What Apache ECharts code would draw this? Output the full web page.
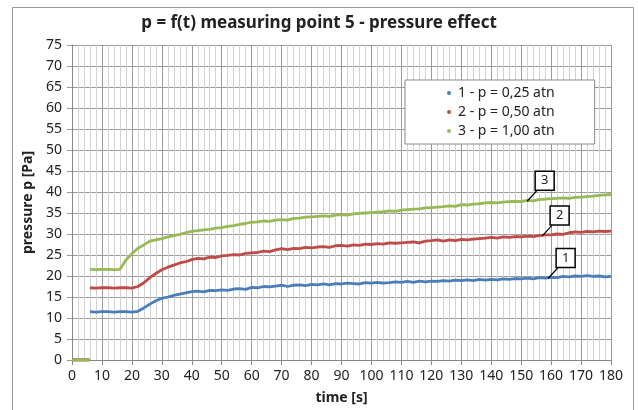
<!DOCTYPE html>
<html><head><meta charset="utf-8">
<script src="https://cdn.jsdelivr.net/npm/echarts@6/dist/echarts.min.js"></script>
<style>html,body{margin:0;padding:0;background:#fff}#c{width:638px;height:410px}</style>
</head><body><div id="c"></div>
<script>
// time axis (s)
var startTimes = [0, 1, 2, 3, 4, 5, 5.8];
var startValues = [0, 0, 0, 0, 0, 0, 0];
var times = [6,8,10,12,14,16,18,20,
  22,24,26,28,30,32,34,36,38,40,
  42,44,46,48,50,52,54,56,58,60,
  62,64,66,68,70,72,74,76,78,80,
  82,84,86,88,90,92,94,96,98,100,
  102,104,106,108,110,112,114,116,118,120,
  122,124,126,128,130,132,134,136,138,140,
  142,144,146,148,150,152,154,156,158,160,
  162,164,166,168,170,172,174,176,178,180];
var p025 = [11.5,11.4,11.5,11.5,11.4,11.5,11.5,11.4,
  11.6,12.4,13.3,14.1,14.7,15.0,15.4,15.7,16.0,16.3,
  16.4,16.2,16.6,16.5,16.7,16.6,16.9,17.0,16.8,17.3,
  17.2,17.5,17.4,17.6,17.8,17.5,17.8,17.9,17.7,18.0,
  17.9,18.1,17.9,18.2,18.1,18.3,18.2,18.1,18.4,18.3,
  18.5,18.3,18.4,18.6,18.5,18.7,18.5,18.8,18.6,18.8,
  18.7,18.9,18.8,19.0,18.9,19.1,18.9,19.2,19.0,19.2,
  19.1,19.3,19.2,19.4,19.3,19.5,19.3,19.6,19.5,19.7,
  19.6,19.9,19.8,20.0,19.9,20.1,19.9,20.0,19.8,19.9];
var p050 = [17.2,17.1,17.2,17.2,17.1,17.2,17.2,17.1,
  17.5,18.4,19.6,20.6,21.5,22.1,22.6,23.1,23.4,23.9,
  24.2,24.1,24.5,24.4,24.8,24.9,25.1,25.0,25.4,25.5,
  25.6,25.9,25.8,26.2,26.5,26.3,26.6,26.5,26.8,26.7,
  26.9,27.0,26.8,27.2,27.3,27.1,27.4,27.3,27.6,27.5,
  27.7,27.6,27.9,27.8,27.9,28.0,28.1,27.9,28.3,28.4,
  28.6,28.3,28.6,28.4,28.7,28.6,28.8,28.9,29.0,29.2,
  29.0,29.3,29.2,29.4,29.3,29.5,29.4,29.6,29.8,29.8,
  30.0,29.9,30.3,30.5,30.4,30.6,30.5,30.7,30.6,30.7];
var p100 = [21.6,21.5,21.6,21.6,21.5,21.6,23.8,25.3,
  26.6,27.4,28.3,28.6,28.9,29.3,29.6,29.9,30.3,30.6,
  30.8,31.0,31.1,31.4,31.5,31.8,32.0,32.3,32.5,32.8,
  32.9,33.1,33.0,33.3,33.4,33.3,33.7,33.8,34.0,34.1,
  34.2,34.3,34.2,34.5,34.6,34.5,34.8,34.9,35.0,35.1,
  35.2,35.3,35.5,35.4,35.7,35.8,35.9,36.0,36.2,36.3,
  36.4,36.5,36.7,36.6,37.0,36.9,37.1,37.2,37.4,37.5,
  37.4,37.6,37.7,37.8,37.7,38.0,37.9,38.2,38.3,38.4,
  38.5,38.6,38.5,38.7,38.8,38.9,39.0,39.2,39.3,39.4];
var seriesNames = ['1 - p = 0,25 atn', '2 - p = 0,50 atn', '3 - p = 1,00 atn'];
var seriesValues = [p025, p050, p100];
var colors = ['#4A7EBB', '#BE4B48', '#98B954'];
// callouts: [label, time, value]
var callouts = [['1', 159, 19.4], ['2', 157, 29.5], ['3', 152, 37.8]];
var xTicks = {min: 0, max: 180, step: 10};
var yTicks = {min: 0, max: 75, step: 5};

function buildData(vals) {
  var d = [];
  for (var i = 0; i < startTimes.length; i++) d.push([startTimes[i], startValues[i]]);
  d.push([5.9, null]);
  for (var j = 0; j < times.length; j++) d.push([times[j], vals[j]]);
  return d;
}

var font = 'Noto Sans';
var chart = echarts.init(document.getElementById('c'), null, {renderer: 'canvas'});
var series = seriesNames.map(function (n, i) {
  return {
    name: n, type: 'line', data: buildData(seriesValues[i]), showSymbol: false,
    connectNulls: false, lineStyle: {width: 2.8, color: colors[i]}, itemStyle: {color: colors[i]},
    animation: false, z: 3 + i
  };
});

chart.setOption({
  animation: false,
  title: {text: 'p = f(t) measuring point 5 - pressure effect', left: 'center', top: 10,
    textStyle: {fontFamily: font, fontSize: 17, fontWeight: 'bold', color: '#222'}},
  grid: {left: 72, right: 27, top: 45, bottom: 47},
  legend: {
    data: seriesNames.map(function (n, i) { return {name: n, icon: 'circle'}; }),
    orient: 'vertical', left: 405, top: 80, itemWidth: 4, itemHeight: 4, itemGap: 5,
    padding: [6, 40, 6, 42], borderColor: '#888', borderWidth: 1, backgroundColor: '#fff',
    textStyle: {fontFamily: font, fontSize: 14, color: '#222', padding: [0, 0, 0, 2]}
  },
  xAxis: {
    type: 'value', min: xTicks.min, max: xTicks.max, interval: xTicks.step,
    name: 'time [s]', nameLocation: 'middle', nameGap: 31,
    nameTextStyle: {fontFamily: font, fontSize: 14, fontWeight: 'bold', color: '#222'},
    axisLine: {show: true, lineStyle: {color: '#888'}},
    axisTick: {show: true, length: 5, lineStyle: {color: '#888'}},
    axisLabel: {fontFamily: font, fontSize: 14, color: '#222', margin: 9},
    splitLine: {show: true, lineStyle: {color: '#9a9a9a', width: 1}},
    minorTick: {show: true, splitNumber: 5, length: 0},
    minorSplitLine: {show: true, lineStyle: {color: '#d2d2d2', width: 1}}
  },
  yAxis: {
    type: 'value', min: yTicks.min, max: yTicks.max, interval: yTicks.step,
    name: 'pressure p [Pa]', nameLocation: 'middle', nameGap: 37,
    nameTextStyle: {fontFamily: font, fontSize: 14, fontWeight: 'bold', color: '#222'},
    axisLine: {show: true, lineStyle: {color: '#888'}},
    axisTick: {show: true, length: 5, lineStyle: {color: '#9a9a9a'}},
    axisLabel: {fontFamily: font, fontSize: 14, color: '#222', margin: 10},
    splitLine: {show: true, lineStyle: {color: '#9a9a9a', width: 1}}
  },
  series: series
});

var g = [{type: 'rect', shape: {x: 12.5, y: 7.5, width: 621, height: 420},
  style: {fill: 'none', stroke: '#999', lineWidth: 1}, z: 0, silent: true}];
callouts.forEach(function (c) {
  var p = chart.convertToPixel({gridIndex: 0}, [c[1], c[2]]);
  var bx = p[0] + 8, by = p[1] - 30;
  g.push({type: 'line', shape: {x1: p[0], y1: p[1], x2: bx + 2, y2: by + 19},
    style: {stroke: '#000', lineWidth: 1.2}, z: 100});
  g.push({type: 'rect', shape: {x: bx, y: by, width: 19, height: 19},
    style: {fill: '#fff', stroke: '#000', lineWidth: 1.5}, z: 101});
  g.push({type: 'text', x: bx + 9.5, y: by + 9.5,
    style: {text: c[0], fontFamily: font, fontSize: 13, fill: '#222', align: 'center', verticalAlign: 'middle'}, z: 102});
});
chart.setOption({graphic: g});
</script></body></html>
